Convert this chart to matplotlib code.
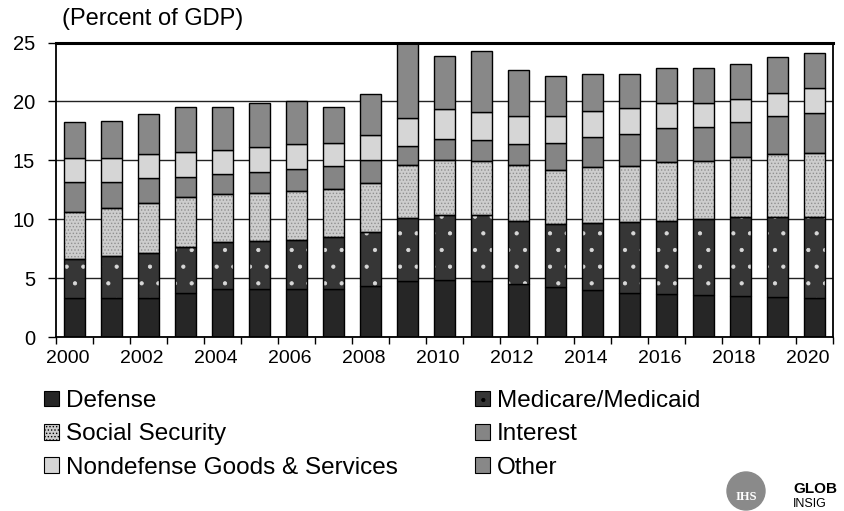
import numpy as np
import matplotlib.pyplot as plt
import matplotlib.transforms as mtransforms
from matplotlib.patches import Patch, Circle

plt.rcParams['font.family'] = ['Liberation Sans', 'DejaVu Sans']
plt.rcParams['hatch.linewidth'] = 0.6

years = np.arange(2000, 2021)

# segment heights, percent of GDP (bottom to top)
defense = [3.3, 3.3, 3.3, 3.75, 4.13, 4.07, 4.07, 4.1, 4.35, 4.8, 4.86,
           4.8, 4.52, 4.29, 4.01, 3.73, 3.67, 3.59, 3.5, 3.45, 3.36]
medicare = [3.35, 3.55, 3.88, 3.93, 3.97, 4.09, 4.18, 4.43, 4.55, 5.28, 5.51,
            5.57, 5.37, 5.31, 5.65, 6.02, 6.19, 6.41, 6.67, 6.78, 6.87]
social_security = [4.0, 4.08, 4.2, 4.24, 4.03, 4.1, 4.12, 4.04, 4.15, 4.52, 4.66,
                   4.6, 4.71, 4.58, 4.8, 4.77, 4.97, 4.97, 5.08, 5.28, 5.42]
interest = [2.55, 2.27, 2.09, 1.7, 1.71, 1.75, 1.87, 1.95, 1.98, 1.61, 1.78,
            1.75, 1.76, 2.32, 2.49, 2.71, 2.88, 2.83, 3.03, 3.25, 3.39]
nondefense = [1.97, 1.97, 2.04, 2.11, 2.04, 2.12, 2.14, 1.98, 2.09, 2.35, 2.51,
              2.35, 2.4, 2.26, 2.26, 2.18, 2.18, 2.09, 1.89, 1.92, 2.06]
other = [3.11, 3.19, 3.42, 3.82, 3.67, 3.7, 3.65, 2.99, 3.5, 6.44, 4.55,
         5.22, 3.9, 3.42, 3.11, 2.96, 2.91, 2.99, 3.05, 3.05, 3.05]

series = [
    # name, values, face, hatch, hatch colour
    ("Defense", defense, "#262626", None, None),
    ("Medicare/Medicaid", medicare, "#363636", ".", "#d8d8d8"),
    ("Social Security", social_security, "#cdcdcd", ".....", "#909090"),
    ("Interest", interest, "#858585", None, None),
    ("Nondefense Goods & Services", nondefense, "#d6d6d6", None, None),
    ("Other", other, "#888888", None, None),
]

fig = plt.figure(figsize=(8.44, 5.11), dpi=100, facecolor="white")
ax = fig.add_axes([0.0664, 0.340, 0.9206, 0.5768])

x = np.arange(len(years))
width = 0.58
bottom = np.zeros(len(years))
for name, vals, face, hatch, hcol in series:
    vals = np.array(vals)
    if hatch:
        ax.bar(x, vals, width, bottom=bottom, color=face, edgecolor=hcol,
               hatch=hatch, linewidth=0, zorder=2)
        ax.bar(x, vals, width, bottom=bottom, fill=False, edgecolor="black",
               linewidth=1.0, zorder=3)
    else:
        ax.bar(x, vals, width, bottom=bottom, color=face, edgecolor="black",
               linewidth=1.0, zorder=2)
    bottom += vals

ax.set_ylim(0, 25)
ax.set_xlim(-0.5, len(years) - 0.5)
ax.set_yticks([0, 5, 10, 15, 20, 25])
ax.yaxis.grid(True, color="#222222", linewidth=1.0, zorder=0)
ax.set_axisbelow(True)

ax.set_xticks(x[::2])
ax.set_xticklabels([str(y) for y in years[::2]])
ax.set_xticks(np.arange(-0.5, len(years), 1.0), minor=True)
ax.tick_params(axis="x", which="major", length=0, pad=9, labelsize=14)
ax.tick_params(axis="x", which="minor", length=5, width=1, direction="out")
ax.tick_params(axis="y", length=6, width=1, pad=9, labelsize=14.5)

# year labels sit a little left of the bar centres
shift = mtransforms.ScaledTranslation(-7 / 100, 0, fig.dpi_scale_trans)
for lbl in ax.get_xticklabels():
    lbl.set_transform(lbl.get_transform() + shift)

for side in ["left", "right", "bottom"]:
    ax.spines[side].set_linewidth(1.3)
ax.spines["top"].set_linewidth(2.2)

fig.text(62 / 844, 1 - 19 / 511, "(Percent of GDP)", fontsize=17,
         ha="left", va="center")

handles = [Patch(facecolor=face, edgecolor="black", hatch=hatch, linewidth=0.8)
           for _, _, face, hatch, _ in series]
labels = [s[0] for s in series]
order = [0, 2, 4, 1, 3, 5]
fig.legend([handles[i] for i in order], [labels[i] for i in order],
           loc="upper left", bbox_to_anchor=(44 / 844, 1 - 390 / 511),
           ncol=2, frameon=False, fontsize=17.5, borderpad=0, borderaxespad=0,
           handlelength=0.62, handleheight=0.62, handletextpad=0.28,
           labelspacing=0.47, columnspacing=3.18)

# IHS Global Insight logo, cut off at the right edge as in the source
logo = fig.add_axes([726 / 844, 0, 40 / 844, 40 / 511])
logo.set_xlim(-1, 1)
logo.set_ylim(-1, 1)
logo.set_aspect("equal")
logo.axis("off")
logo.add_patch(Circle((0, 0), 0.95, color="#8a8a8a", clip_on=False))
logo.text(0, -0.3, "IHS", color="white", fontsize=9, fontweight="bold",
          ha="center", va="center", family="Liberation Serif")
fig.text(793 / 844, 1 - 489 / 511, "GLOB", fontsize=11, fontweight="bold",
         ha="left", va="center")
fig.text(793 / 844, 1 - 504 / 511, "INSIG", fontsize=9, ha="left",
         va="center")

fig.savefig("out.png", dpi=100, facecolor="white")
